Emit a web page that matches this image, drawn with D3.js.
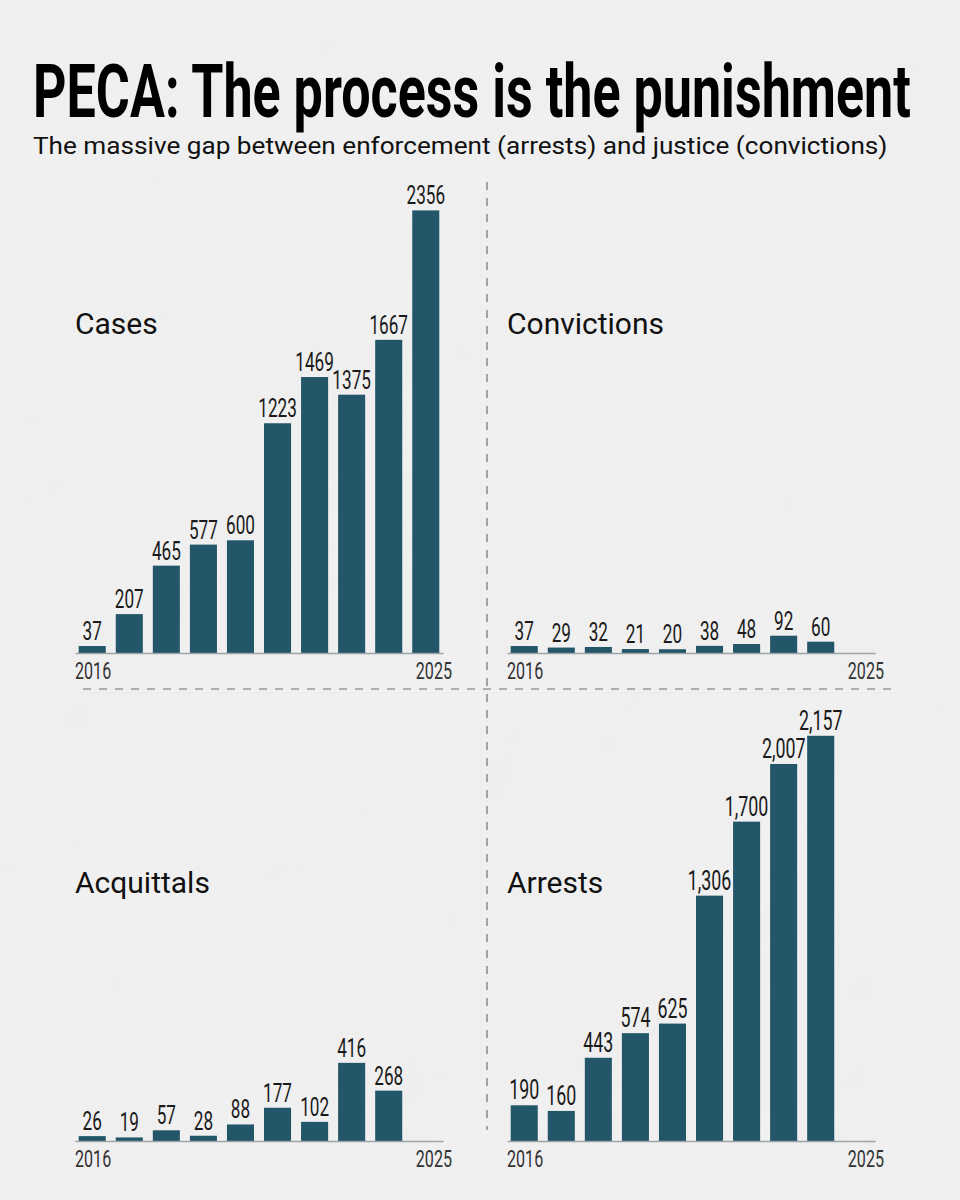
<!DOCTYPE html>
<html>
<head>
<meta charset="utf-8">
<script src="https://cdn.jsdelivr.net/npm/d3@7"></script>
<style>
  html, body { margin: 0; padding: 0; background: #ededed; }
  svg { display: block; }
</style>
</head>
<body>
<svg id="chart" width="960" height="1200"></svg>
<script>
// ---------- DATA ----------
const years = [2016, 2017, 2018, 2019, 2020, 2021, 2022, 2023, 2024, 2025];
const cases = [37, 207, 465, 577, 600, 1223, 1469, 1375, 1667, 2356];
const convictions = [37, 29, 32, 21, 20, 38, 48, 92, 60];
const acquittals = [26, 19, 57, 28, 88, 177, 102, 416, 268];
const arrests = [190, 160, 443, 574, 625, 1306, 1700, 2007, 2157];
const panelTitles = ["Cases", "Convictions", "Acquittals", "Arrests"];
const titleText = "PECA: The process is the punishment";
const subtitleText = "The massive gap between enforcement (arrests) and justice (convictions)";

// ---------- SETUP ----------
const svg = d3.select("#chart");
const W = 960, H = 1200;
const barColor = "#24566a";
const FONT = "Roboto, 'Liberation Sans', sans-serif";

// paper background
const defs = svg.append("defs");
const f = defs.append("filter").attr("id", "paper").attr("x", 0).attr("y", 0).attr("width", "100%").attr("height", "100%");
f.append("feTurbulence").attr("type", "fractalNoise").attr("baseFrequency", 0.006).attr("numOctaves", 4).attr("seed", 7).attr("result", "noise");
const light = f.append("feDiffuseLighting").attr("in", "noise").attr("lighting-color", "#ffffff").attr("surfaceScale", 2.2).attr("result", "lit");
light.append("feDistantLight").attr("azimuth", 45).attr("elevation", 62);

svg.append("rect").attr("width", W).attr("height", H).attr("fill", "#efefef");
svg.append("rect").attr("width", W).attr("height", H).attr("filter", "url(#paper)").attr("opacity", 0.35);

// fit a text horizontally to a target width using a scale transform
function fitText(sel, x, yBase, targetW) {
  const len = sel.node().getComputedTextLength();
  const s = targetW / len;
  sel.attr("transform", `translate(${x},${yBase}) scale(${s},1)`);
}

// ---------- TITLE ----------
const t = svg.append("text")
  .attr("x", 0).attr("y", 0)
  .attr("font-family", FONT)
  .attr("font-weight", 700)
  .attr("font-size", 74)
  .attr("fill", "#000")
  .text(titleText);
fitText(t, 33, 117, 878);

const st = svg.append("text")
  .attr("x", 0).attr("y", 0)
  .attr("font-family", FONT)
  .attr("font-weight", 400)
  .attr("font-size", 24)
  .attr("fill", "#111")
  .text(subtitleText);
fitText(st, 33, 154, 855);

// ---------- DIVIDERS ----------
svg.append("line")
  .attr("x1", 487).attr("x2", 487).attr("y1", 182).attr("y2", 1130)
  .attr("stroke", "#6f6f6f").attr("stroke-width", 1.2).attr("stroke-dasharray", "8,8");
svg.append("line")
  .attr("x1", 83).attr("x2", 894).attr("y1", 689).attr("y2", 689)
  .attr("stroke", "#6f6f6f").attr("stroke-width", 1.2).attr("stroke-dasharray", "8,8");

// ---------- SCALES (shared height scale) ----------
const y = d3.scaleLinear().domain([0, 2356]).range([0, 442.6]);

const panels = [
  { title: panelTitles[0], data: cases, x0: 75, x1: 443, base: 653, titleY: 334, fmt: d3.format("d"), fs: 26 },
  { title: panelTitles[1], data: convictions, x0: 507, x1: 875, base: 653, titleY: 334, fmt: d3.format("d"), fs: 26 },
  { title: panelTitles[2], data: acquittals, x0: 75, x1: 443, base: 1141, titleY: 893, fmt: d3.format("d"), fs: 26 },
  { title: panelTitles[3], data: arrests, x0: 507, x1: 875, base: 1141, titleY: 893, fmt: d3.format(","), fs: 27 }
];

const condensed = 0.66;

panels.forEach(p => {
  const g = svg.append("g");
  const x = d3.scaleBand().domain(years).range([p.x0, p.x1]).paddingInner(0.27).paddingOuter(0.1);
  const rows = p.data.map((v, i) => ({ year: years[i], value: v }));

  // panel title
  g.append("text")
    .attr("x", p.x0).attr("y", p.titleY)
    .attr("font-family", FONT)
    .attr("font-size", 30)
    .attr("fill", "#111")
    .text(p.title);

  // bars
  g.selectAll("rect.bar").data(rows).join("rect")
    .attr("class", "bar")
    .attr("x", d => x(d.year))
    .attr("width", x.bandwidth())
    .attr("y", d => p.base - y(d.value))
    .attr("height", d => y(d.value))
    .attr("fill", barColor);

  // value labels
  g.selectAll("text.val").data(rows).join("text")
    .attr("class", "val")
    .attr("transform", d => `translate(${x(d.year) + x.bandwidth() / 2},${p.base - y(d.value) - 6}) scale(${condensed},1)`)
    .attr("text-anchor", "middle")
    .attr("font-family", FONT)
    .attr("font-weight", 400)
    .attr("font-size", p.fs)
    .attr("fill", "#1a1a1a")
    .text(d => p.fmt(d.value));

  // baseline axis (no ticks)
  const axis = d3.axisBottom(d3.scaleLinear().range([p.x0, p.x1])).tickValues([]).tickSizeOuter(0);
  const ag = g.append("g").attr("transform", `translate(0,${p.base})`).call(axis);
  ag.select(".domain").attr("stroke", "#9aa3a6").attr("stroke-width", 1.5);

  // first / last year labels
  g.append("text")
    .attr("transform", `translate(${p.x0},${p.base + 26}) scale(0.7,1)`)
    .attr("text-anchor", "start")
    .attr("font-family", FONT)
    .attr("font-weight", 400)
    .attr("font-size", 23)
    .attr("fill", "#333")
    .text(years[0]);
  g.append("text")
    .attr("transform", `translate(${p.x1 + 9},${p.base + 26}) scale(0.7,1)`)
    .attr("text-anchor", "end")
    .attr("font-family", FONT)
    .attr("font-weight", 400)
    .attr("font-size", 23)
    .attr("fill", "#333")
    .text(years[years.length - 1]);
});
</script>
</body>
</html>
